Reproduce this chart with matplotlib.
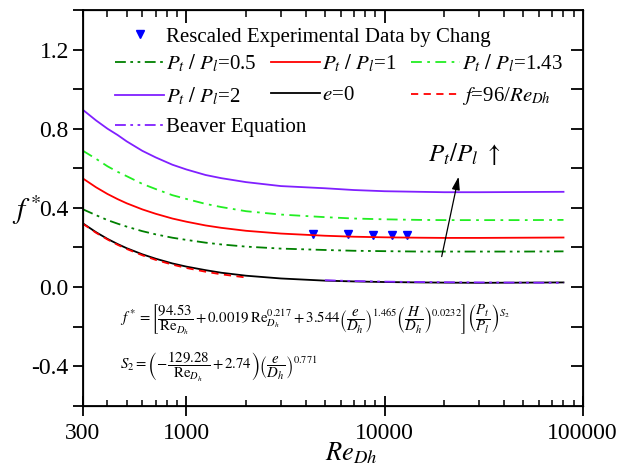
import matplotlib
matplotlib.use('Agg')
import matplotlib.pyplot as plt
from matplotlib.ticker import FixedLocator, NullFormatter, LogLocator

plt.rcParams['font.family'] = 'Liberation Serif'
plt.rcParams['mathtext.fontset'] = 'stix'
plt.rcParams['axes.unicode_minus'] = False

# Reynolds number grid and f* for each pitch ratio
re = [300, 350, 400, 450, 500, 600, 700, 850, 1000, 1250, 1500, 2000, 3000,
      5000, 7000, 10000, 15000, 20000, 30000, 50000, 80000]
f_pr05 = [0.393, 0.363, 0.338, 0.320, 0.305, 0.282, 0.266, 0.249, 0.238, 0.224,
          0.215, 0.204, 0.194, 0.187, 0.183, 0.181, 0.179, 0.179, 0.179, 0.179, 0.180]
f_pr1 = [0.549, 0.504, 0.470, 0.444, 0.423, 0.392, 0.370, 0.346, 0.330, 0.311,
         0.299, 0.284, 0.270, 0.259, 0.254, 0.251, 0.249, 0.248, 0.248, 0.249, 0.250]
f_pr143 = [0.689, 0.648, 0.610, 0.582, 0.560, 0.521, 0.495, 0.464, 0.445, 0.420,
           0.404, 0.383, 0.366, 0.353, 0.346, 0.342, 0.339, 0.338, 0.338, 0.338, 0.339]
f_pr2 = [0.896, 0.842, 0.800, 0.768, 0.736, 0.688, 0.655, 0.618, 0.594, 0.566,
         0.550, 0.530, 0.510, 0.499, 0.490, 0.484, 0.481, 0.479, 0.479, 0.480, 0.481]
f_e0 = [0.322, 0.277, 0.243, 0.217, 0.196, 0.165, 0.143, 0.119, 0.103, 0.085,
        0.072, 0.057, 0.043, 0.032, 0.028, 0.025, 0.023, 0.022, 0.021, 0.022, 0.023]

# laminar line f = 96/Re
re_lam = [300, 350, 400, 450, 500, 600, 700, 850, 1000, 1250, 1500, 2000]
f_lam = [0.320, 0.274, 0.240, 0.213, 0.192, 0.160, 0.137, 0.113, 0.096, 0.077,
         0.064, 0.048]

# Beaver equation
re_beaver = [5000, 7000, 10000, 15000, 20000, 30000, 50000, 80000]
f_beaver = [0.034, 0.030, 0.027, 0.025, 0.024, 0.023, 0.022, 0.021]

# rescaled data by Chang
re_chang = [4360, 6540, 8740, 10900, 13000]
f_chang = [0.268, 0.266, 0.265, 0.264, 0.264]

fig = plt.figure(figsize=(6.32, 4.67), dpi=100)
ax = fig.add_axes([0.1309, 0.1313, 0.7911, 0.8473])

lw = 1.3
h_chang, = ax.plot(re_chang, f_chang, 'v', color='#0000ff', ms=5.5, ls='none',
                   label='Rescaled Experimental Data by Chang')
h05, = ax.plot(re, f_pr05, color='#008000', lw=lw, dashes=[6, 2.5, 1.5, 2.5, 1.5, 2.5],
               label=r'$P_t\ /\ P_l$=0.5')
h1, = ax.plot(re, f_pr1, color='#ff0000', lw=lw, label=r'$P_t\ /\ P_l$=1')
h143, = ax.plot(re, f_pr143, color='#22ee22', lw=lw, dashes=[6, 3, 1.5, 3],
                label=r'$P_t\ /\ P_l$=1.43')
h2, = ax.plot(re, f_pr2, color='#8020ff', lw=lw, label=r'$P_t\ /\ P_l$=2')
he0, = ax.plot(re, f_e0, color='black', lw=lw, label=r'$e$=0')
hlam, = ax.plot(re_lam, f_lam, color='#ff0000', lw=lw, dashes=[4, 3],
                label=r'$f$=96/$Re_{Dh}$')
hbv, = ax.plot(re_beaver, f_beaver, color='#8020ff', lw=lw,
               dashes=[6, 2.5, 1.5, 2.5, 1.5, 2.5], label='Beaver Equation')

ax.set_xscale('log')
ax.set_xlim(300, 100000)
ax.set_ylim(-0.6, 1.4)

# x ticks
ax.xaxis.set_major_locator(FixedLocator([300, 1000, 10000, 100000]))
ax.set_xticklabels(['300', '1000', '10000', '100000'])
ax.xaxis.set_minor_locator(LogLocator(base=10, subs=range(2, 10)))
ax.xaxis.set_minor_formatter(NullFormatter())
ax.tick_params(axis='x', which='major', direction='inout', length=15, width=1.3,
               labelsize=17, pad=5, top=False)
ax.tick_params(axis='x', which='minor', direction='in', length=4, width=1.1, top=False)

# y ticks
ax.yaxis.set_major_locator(FixedLocator([-0.4, 0.0, 0.4, 0.8, 1.2]))
ax.set_yticklabels(['-0.4', '0.0', '0.4', '0.8', '1.2'])
ax.yaxis.set_minor_locator(FixedLocator([-0.6, -0.2, 0.2, 0.6, 1.0, 1.4]))
ax.tick_params(axis='y', which='both', direction='out', length=7, width=1.3,
               labelsize=17, pad=3, right=False)

for s in ax.spines.values():
    s.set_linewidth(1.3)

# inward ticks on top and right
axt = ax.twiny()
axt.set_xscale('log')
axt.set_xlim(ax.get_xlim())
axt.xaxis.set_major_locator(FixedLocator([1000, 10000]))
axt.xaxis.set_minor_locator(LogLocator(base=10, subs=range(2, 10)))
axt.xaxis.set_major_formatter(NullFormatter())
axt.xaxis.set_minor_formatter(NullFormatter())
axt.tick_params(axis='x', which='major', direction='in', length=9, width=1.3)
axt.tick_params(axis='x', which='minor', direction='in', length=5, width=1.1)

axr = ax.twinx()
axr.set_ylim(ax.get_ylim())
axr.yaxis.set_major_locator(FixedLocator([-0.4, -0.2, 0.0, 0.2, 0.4, 0.6, 0.8, 1.0, 1.2]))
axr.yaxis.set_major_formatter(NullFormatter())
axr.tick_params(axis='y', direction='in', length=9, width=1.3)

# legends
leg_kw = dict(loc='upper left', frameon=False, fontsize=15, handlelength=2.35,
              handletextpad=0.1, borderpad=0, borderaxespad=0)
leg1 = axr.legend(handles=[h_chang], bbox_to_anchor=(0.0646, 0.957), **leg_kw)
axr.add_artist(leg1)
leg2 = axr.legend(handles=[h05, h2, h1, he0, h143, hlam], ncol=3,
                  bbox_to_anchor=(0.0646, 0.893), columnspacing=0.7,
                  labelspacing=0.55, **leg_kw)
axr.add_artist(leg2)
axr.legend(handles=[hbv], bbox_to_anchor=(0.0646, 0.728), **leg_kw)

# correlation
ax.text(0.075, 0.217,
        r'$f^* = \left[\dfrac{94.53}{\mathrm{Re}_{D_h}} + 0.0019\,\mathrm{Re}_{D_h}^{0.217}'
        r' + 3.544\left(\dfrac{e}{D_h}\right)^{1.465}\left(\dfrac{H}{D_h}\right)^{0.0232}\right]'
        r'\left(\dfrac{P_t}{P_l}\right)^{S_2}$',
        transform=ax.transAxes, fontsize=10.7, ha='left', va='center')
ax.text(0.075, 0.098,
        r'$S_2 = \left(-\dfrac{129.28}{\mathrm{Re}_{D_h}} + 2.74\right)\left(\dfrac{e}{D_h}\right)^{0.771}$',
        transform=ax.transAxes, fontsize=10.7, ha='left', va='center')

# arrow showing increasing pitch ratio
ax.annotate('', xy=(23800, 0.571), xytext=(19300, 0.14),
            arrowprops=dict(arrowstyle='-|>,head_width=0.2,head_length=0.65',
                            color='black', lw=0.9, mutation_scale=12))
ax.text(25200, 0.672, r'$P_t/P_l\ \uparrow$', ha='center', va='center', fontsize=18)

fig.text(0.043, 0.55, r'$f^*$', fontsize=21, ha='center', va='center')
fig.text(0.514, 0.015, r'$Re_{Dh}$', fontsize=19, ha='left', va='baseline')

fig.savefig('out.png', dpi=100)
